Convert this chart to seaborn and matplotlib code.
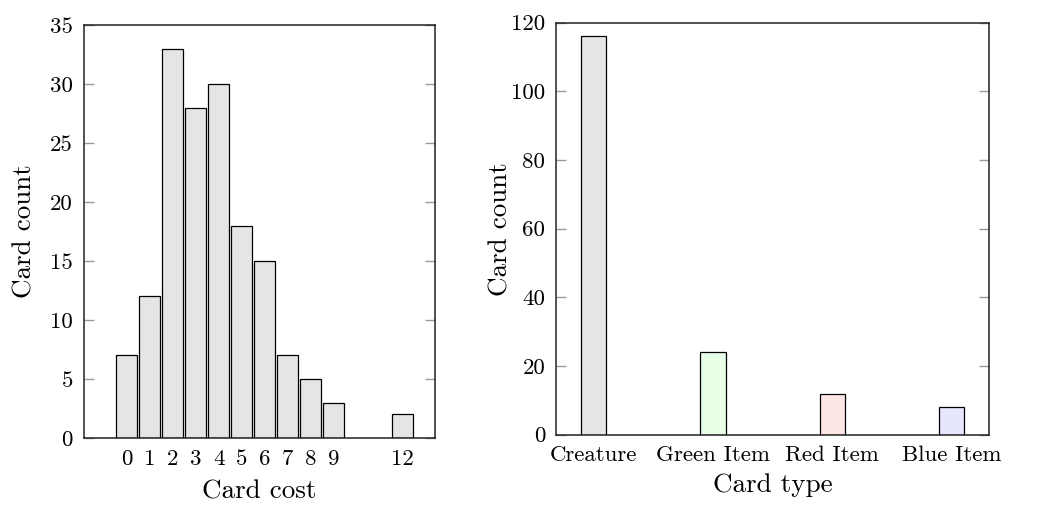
import matplotlib
matplotlib.use("Agg")
import matplotlib.pyplot as plt
import seaborn as sns
import pandas as pd

# Data
card_costs = [0, 1, 2, 3, 4, 5, 6, 7, 8, 9, 12]
cost_counts = [7, 12, 33, 28, 30, 18, 15, 7, 5, 3, 2]

card_types = ["Creature", "Green Item", "Red Item", "Blue Item"]
type_counts = [116, 24, 12, 8]
type_colors = ["#e6e6e6", "#e6ffe6", "#ffe6e6", "#e6e6ff"]

left_yticks = [0, 5, 10, 15, 20, 25, 30, 35]
right_yticks = [0, 20, 40, 60, 80, 100, 120]

sns.set_theme(style="white")
plt.rcParams["font.family"] = ["cmr10", "DejaVu Serif"]
plt.rcParams["axes.formatter.use_mathtext"] = True
plt.rcParams["axes.unicode_minus"] = False
plt.rcParams["text.color"] = "black"
plt.rcParams["axes.labelcolor"] = "black"

fig = plt.figure(figsize=(10.39, 5.05), dpi=100)
ax1 = fig.add_axes([0.0808, 0.1327, 0.3379, 0.8178])
ax2 = fig.add_axes([0.5354, 0.1392, 0.4165, 0.8158])

df1 = pd.DataFrame({"cost": card_costs, "count": cost_counts})
sns.barplot(data=df1, x="cost", y="count", native_scale=True, width=0.92,
            color="#e5e5e5", saturation=1, edgecolor="black", linewidth=0.9,
            ax=ax1)
ax1.set_xlim(-1.86, 13.42)
ax1.set_ylim(0, 35)
ax1.set_xticks(card_costs)
ax1.set_xticklabels([str(c) for c in card_costs])
ax1.set_yticks(left_yticks)
ax1.set_yticklabels([str(v) for v in left_yticks])
ax1.set_xlabel("Card cost", fontsize=19.5, labelpad=8)
ax1.set_ylabel("Card count", fontsize=19.5, labelpad=10)

df2 = pd.DataFrame({"type": card_types, "count": type_counts})
sns.barplot(data=df2, x="type", y="count", hue="type", palette=type_colors,
            saturation=1, width=0.21, edgecolor="black", linewidth=0.9,
            legend=False, ax=ax2)
ax2.set_xlim(-0.313, 3.313)
ax2.set_ylim(0, 120)
ax2.set_yticks(right_yticks)
ax2.set_yticklabels([str(v) for v in right_yticks])
ax2.set_xlabel("Card type", fontsize=19.5, labelpad=6)
ax2.set_ylabel("Card count", fontsize=19.5, labelpad=-1)

for ax in (ax1, ax2):
    for s in ax.spines.values():
        s.set_visible(True)
        s.set_color("#222222")
        s.set_linewidth(1.1)
    ax.tick_params(axis="y", which="both", direction="in", left=True, right=True,
                   length=7.5, width=1, color="#999999", labelcolor="black",
                   labelsize=16.5, pad=8)
    ax.tick_params(axis="x", length=0, labelsize=16.5, labelcolor="black", pad=8)
    ax.grid(False)

fig.savefig("out.png", dpi=100)
